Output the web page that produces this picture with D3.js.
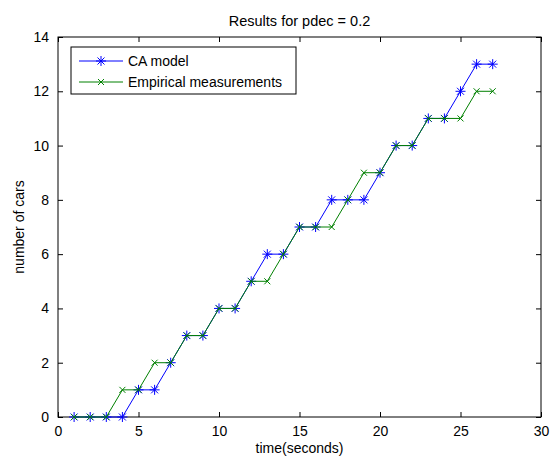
<!DOCTYPE html>
<html>
<head>
<meta charset="utf-8">
<script src="https://cdn.jsdelivr.net/npm/d3@7"></script>
<style>
  body { margin: 0; background: #fff; }
  text { font-family: "Liberation Sans", Arial, sans-serif; fill: #000; }
</style>
</head>
<body>
<div id="chart"></div>
<script>
// time steps (seconds)
const tiempos = d3.range(1, 28);
// CA model
const caModel = [0, 0, 0, 0, 1, 1, 2, 3, 3, 4, 4, 5, 6, 6, 7, 7, 8, 8, 8, 9, 10, 10, 11, 11, 12, 13, 13];
// Empirical measurements
const empirico = [0, 0, 0, 1, 1, 2, 2, 3, 3, 4, 4, 5, 5, 6, 7, 7, 7, 8, 9, 9, 10, 10, 11, 11, 11, 12, 12];
const xTicks = [0, 5, 10, 15, 20, 25, 30];
const yTicks = [0, 2, 4, 6, 8, 10, 12, 14];
const seriesNames = ["CA model", "Empirical measurements"];

const margin = { top: 37, right: 12, bottom: 39, left: 58 };
const width = 553 - margin.left - margin.right;
const height = 456 - margin.top - margin.bottom;

const svg = d3.select("#chart")
  .append("svg")
    .attr("width", 553)
    .attr("height", 456)
  .append("g")
    .attr("transform", "translate(" + margin.left + "," + margin.top + ")");

const xScale = d3.scaleLinear().domain([0, 30]).range([0, width]);
const yScale = d3.scaleLinear().domain([0, 14]).range([height, 0]);

// ejes con ticks hacia adentro (estilo matlab)
function estiloEje(g) {
  g.select(".domain").remove();
  g.selectAll("line").attr("stroke", "#000");
  g.selectAll("text").style("font-size", "14px");
}
svg.append("g")
  .attr("transform", "translate(0," + height + ")")
  .call(d3.axisBottom(xScale).tickValues(xTicks).tickSize(-5).tickPadding(9))
  .call(estiloEje);
svg.append("g")
  .call(d3.axisTop(xScale).tickValues(xTicks).tickSize(-5).tickFormat(""))
  .call(estiloEje);
svg.append("g")
  .call(d3.axisLeft(yScale).tickValues(yTicks).tickSize(-5).tickPadding(9))
  .call(estiloEje);
svg.append("g")
  .attr("transform", "translate(" + width + ",0)")
  .call(d3.axisRight(yScale).tickValues(yTicks).tickSize(-5).tickFormat(""))
  .call(estiloEje);

svg.append("rect")
  .attr("width", width)
  .attr("height", height)
  .attr("fill", "none")
  .attr("stroke", "#000");

const linea = d3.line()
  .x((d, i) => xScale(tiempos[i]))
  .y(d => yScale(d));

function estrella(g, color) {
  g.append("line").attr("x1", -5).attr("x2", 5).attr("y1", 0).attr("y2", 0);
  g.append("line").attr("x1", 0).attr("x2", 0).attr("y1", -5).attr("y2", 5);
  g.append("line").attr("x1", -3.5).attr("x2", 3.5).attr("y1", -3.5).attr("y2", 3.5);
  g.append("line").attr("x1", -3.5).attr("x2", 3.5).attr("y1", 3.5).attr("y2", -3.5);
  g.attr("stroke", color).attr("stroke-width", 1);
}
function cruz(g, color) {
  g.append("line").attr("x1", -3).attr("x2", 3).attr("y1", -3).attr("y2", 3);
  g.append("line").attr("x1", -3).attr("x2", 3).attr("y1", 3).attr("y2", -3);
  g.attr("stroke", color).attr("stroke-width", 1);
}

const series = [
  { nombre: seriesNames[0], valores: caModel, color: "#0000ff", marca: estrella },
  { nombre: seriesNames[1], valores: empirico, color: "#008000", marca: cruz }
];

series.forEach(s => {
  svg.append("path")
    .datum(s.valores)
    .attr("fill", "none")
    .attr("stroke", s.color)
    .attr("stroke-width", 1)
    .attr("d", linea);
  svg.selectAll(null)
    .data(s.valores)
    .enter()
    .append("g")
      .attr("transform", (d, i) => "translate(" + xScale(tiempos[i]) + "," + yScale(d) + ")")
      .each(function() { s.marca(d3.select(this), s.color); });
});

// titulo y etiquetas
svg.append("text")
  .attr("x", width / 2)
  .attr("y", -11)
  .attr("text-anchor", "middle")
  .style("font-size", "14.5px")
  .text("Results for pdec = 0.2");
svg.append("text")
  .attr("x", width / 2)
  .attr("y", height + 36)
  .attr("text-anchor", "middle")
  .style("font-size", "14px")
  .text("time(seconds)");
svg.append("text")
  .attr("transform", "translate(-34," + (height / 2) + ")rotate(-90)")
  .attr("text-anchor", "middle")
  .style("font-size", "14px")
  .text("number of cars");

// leyenda
const leyenda = svg.append("g").attr("transform", "translate(13,10)");
leyenda.append("rect")
  .attr("width", 225)
  .attr("height", 47)
  .attr("fill", "#fff")
  .attr("stroke", "#000");
series.forEach((s, i) => {
  const fila = leyenda.append("g").attr("transform", "translate(0," + (14 + i * 21) + ")");
  fila.append("line")
    .attr("x1", 8).attr("x2", 52)
    .attr("stroke", s.color);
  s.marca(fila.append("g").attr("transform", "translate(30,0)"), s.color);
  fila.append("text")
    .attr("x", 57)
    .attr("dy", "0.35em")
    .style("font-size", "14px")
    .text(s.nombre);
});
</script>
</body>
</html>
